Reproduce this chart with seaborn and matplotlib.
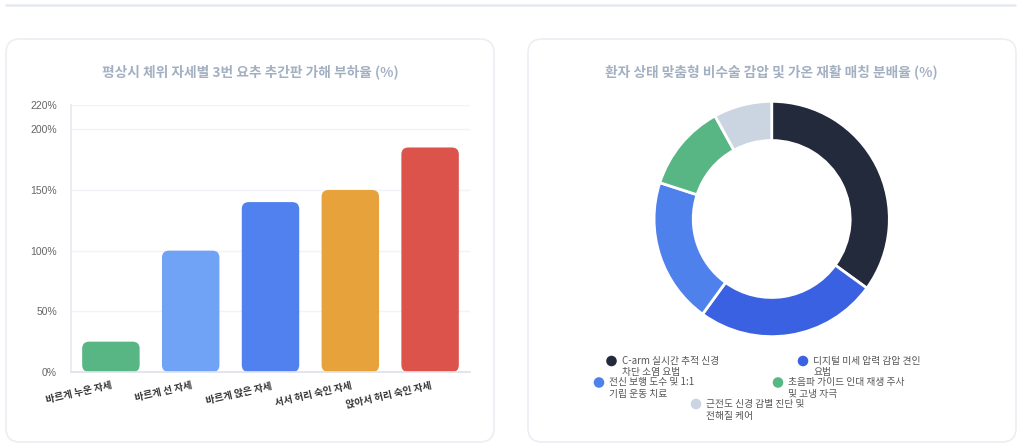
import matplotlib
matplotlib.use("Agg")
import matplotlib.pyplot as plt
import seaborn as sns
import pandas as pd
import numpy as np
from matplotlib.patches import FancyBboxPatch

# ---------------- data ----------------
bar_title = "평상시 체위 자세별 3번 요추 추간판 가해 부하율 (%)"
bar_categories = ["바르게 누운 자세", "바르게 선 자세", "바르게 앉은 자세", "서서 허리 숙인 자세", "앉아서 허리 숙인 자세"]
bar_values = [25, 100, 140, 150, 185]
bar_colors = ["#57b683", "#70a3f6", "#5081ee", "#e7a23b", "#dc534b"]
y_ticks = [0, 50, 100, 150, 200, 220]
y_tick_labels = ["0%", "50%", "100%", "150%", "200%", "220%"]

donut_title = "환자 상태 맞춤형 비수술 감압 및 가온 재활 매칭 분배율 (%)"
donut_labels = ["C-arm 실시간 추적 신경\n차단 소염 요법", "디지털 미세 압력 감압 견인\n요법",
                "전신 보행 도수 및 1:1\n기립 운동 치료", "초음파 가이드 인대 재생 주사\n및 고냉 자극",
                "근전도 신경 감별 진단 및\n전해질 케어"]
donut_values = [35, 25, 20, 12, 8]
donut_colors = ["#222a3c", "#3a61e2", "#4f81ec", "#57b683", "#cbd5e1"]

# ---------------- style ----------------
sns.set_theme(style="white")
plt.rcParams["font.family"] = ["Noto Sans CJK KR", "DejaVu Sans"]

W, H = 1024, 448
fig = plt.figure(figsize=(W / 100, H / 100), dpi=100)
fig.patch.set_facecolor("white")

# background axes in pixel coords
bg = fig.add_axes([0, 0, 1, 1])
bg.set_xlim(0, W)
bg.set_ylim(H, 0)
bg.axis("off")
bg.plot([5, 1016], [5, 5], color="#e5e9f0", lw=1.8, solid_capstyle="butt")
for (x0, x1) in [(6, 494), (528, 1016)]:
    card = FancyBboxPatch((x0, 39), x1 - x0, 442 - 39,
                          boxstyle="round,pad=0,rounding_size=14",
                          facecolor="white", edgecolor="#eceef3", lw=1.2)
    bg.add_patch(card)

def fx(px):
    return px / W

def fy(py):
    return 1 - py / H

title_kw = dict(fontsize=9.9, fontweight="bold", color="#a3b0c2", ha="center", va="center")
bg.text(250, 72, bar_title, **title_kw)
bg.text(771, 72, donut_title, **title_kw)

# ---------------- bar chart ----------------
L, R, T, B = 71, 470, 105, 372
ax = fig.add_axes([fx(L), fy(B), fx(R - L), (B - T) / H])
df = pd.DataFrame({"cat": bar_categories, "val": bar_values})
sns.barplot(data=df, x="cat", y="val", hue="cat", palette=bar_colors,
            width=0.72, legend=False, ax=ax, saturation=1)
ax.set_xlim(-0.5, len(bar_categories) - 0.5)
ax.set_ylim(0, 220)
ax.set_yticks(y_ticks)
ax.set_yticklabels(y_tick_labels, family=["Liberation Sans", "DejaVu Sans"],
                   fontsize=7.5, color="#666666")
ax.set_xlabel("")
ax.set_ylabel("")
ax.grid(axis="y", color="#f1f3f8", lw=1)
ax.grid(axis="x", visible=False)
ax.set_axisbelow(True)
for s in ["top", "right"]:
    ax.spines[s].set_visible(False)
ax.spines["left"].set_color("#e8eaf0")
ax.spines["bottom"].set_color("#dfe2ea")
ax.tick_params(axis="y", length=0, pad=10)
ax.tick_params(axis="x", length=0, pad=6)
for lab in ax.get_xticklabels():
    lab.set_rotation(13)
    lab.set_ha("right")
    lab.set_va("top")
    lab.set_rotation_mode("anchor")
    lab.set_fontsize(7)
    lab.set_fontweight("bold")
    lab.set_color("#333333")

# round bar corners
x_per_px = (len(bar_categories)) / (R - L)
y_per_px = 220 / (B - T)
r_px = 7
for p in list(ax.patches):
    x, y, w, h = p.get_x(), p.get_y(), p.get_width(), p.get_height()
    fc = p.get_facecolor()
    p.remove()
    rr = min(r_px, h / y_per_px / 2.0)
    fb = FancyBboxPatch((x, y), w, h,
                        boxstyle=f"round,pad=0,rounding_size={rr * x_per_px}",
                        mutation_aspect=y_per_px / x_per_px,
                        facecolor=fc, edgecolor="none", zorder=2)
    ax.add_patch(fb)

# ---------------- donut ----------------
cx, cy, rad = 771.7, 219, 120
ax2 = fig.add_axes([fx(cx - rad), fy(cy + rad), 2 * rad / W, 2 * rad / H])
ax2.pie(donut_values, colors=donut_colors, startangle=90, counterclock=False,
        radius=1, wedgeprops=dict(width=0.333, edgecolor="white", linewidth=2))
ax2.set_xlim(-1.02, 1.02)
ax2.set_ylim(-1.02, 1.02)
ax2.axis("off")

# ---------------- legend ----------------
legend_pos = [(611.5, 361), (803, 361), (599, 382.5), (778, 382.5), (696, 404)]
line_gap = 11.5
for (mx, my), lab, col in zip(legend_pos, donut_labels, donut_colors):
    bg.scatter([mx], [my], s=58, color=col, edgecolor="none", zorder=5)
    for i, line in enumerate(lab.split("\n")):
        bg.text(mx + 10, my + i * line_gap, line, fontsize=7, color="#555555",
                ha="left", va="center")

fig.savefig("out.png", dpi=100, facecolor="white")
